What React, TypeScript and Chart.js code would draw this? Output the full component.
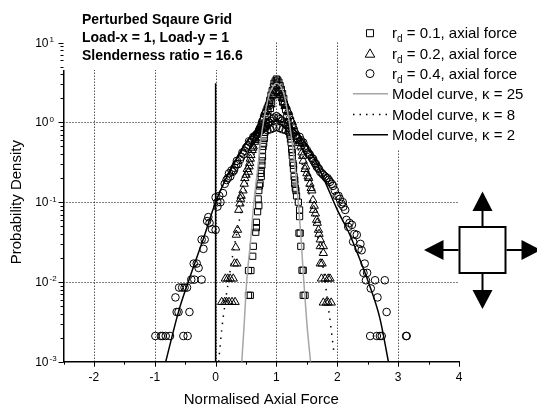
import { useEffect, useRef } from 'react';
import { Chart, registerables } from 'chart.js';

Chart.register(...registerables);

const FONT = '"Liberation Sans", Arial, Helvetica, sans-serif';

// ---- text ----
const titleLines = ['Perturbed Sqaure Grid', 'Load-x = 1, Load-y = 1', 'Slenderness ratio = 16.6'];
const xAxisTitle = 'Normalised Axial Force';
const yAxisTitle = 'Probability Density';
const markerLegendText = [' = 0.1, axial force', ' = 0.2, axial force', ' = 0.4, axial force'];
const lineLegendText = ['Model curve, \u03BA = 25', 'Model curve, \u03BA = 8', 'Model curve, \u03BA = 2'];

// ---- axes ----
const xMin = -2.5;
const xMax = 4;
const xTickValues = [-2.5, -2, -1.5, -1, -0.5, 0, 0.5, 1, 1.5, 2, 2.5, 3, 3.5, 4];
const xLabelValues = [-2, -1, 0, 1, 2, 3, 4];
const xGridValues = [-2, -1, 0, 1, 2, 3];
const yMin = 0.001;
const yMax = 10;
const yMajorValues = [0.001, 0.01, 0.1, 1, 10];
const yMajorExponents = ['-3', '-2', '-1', '0', '1'];
const yGridValues = [0.01, 0.1, 1];
const yMinorMultipliers = [2, 3, 4, 5, 6, 7, 8, 9];

// ---- data ----
const squares_rd01: [number, number][] = [
  [0.54, 0.0068], [0.57, 0.0068], [0.54, 0.0139], [0.58, 0.0139], [0.61, 0.021], [0.62, 0.028],
  [0.66, 0.042], [0.67, 0.048], [0.67, 0.056], [0.69, 0.076], [0.71, 0.09], [0.7, 0.11],
  [0.71, 0.14], [0.73, 0.17], [0.75, 0.21], [0.75, 0.25], [0.76, 0.29], [0.77, 0.37],
  [0.77, 0.45], [0.79, 0.55], [0.8, 0.63], [0.81, 0.75], [0.82, 0.88], [0.83, 1.0],
  [0.85, 1.2], [0.86, 1.4], [0.88, 1.65], [0.89, 1.9], [0.91, 2.2], [0.93, 2.5],
  [0.95, 2.8], [0.96, 3.1], [0.98, 3.3], [1.0, 3.5], [1.02, 3.4], [1.04, 3.2],
  [1.06, 2.9], [1.08, 2.6], [1.1, 2.3], [1.12, 2.0], [1.13, 1.7], [1.15, 1.45],
  [1.17, 1.2], [1.19, 1.0], [1.2, 0.85], [1.22, 0.7], [1.24, 0.56], [1.25, 0.46],
  [1.26, 0.38], [1.27, 0.31], [1.28, 0.26], [1.29, 0.21], [1.3, 0.17], [1.31, 0.15],
  [1.33, 0.12], [1.36, 0.1], [1.38, 0.08], [1.38, 0.066], [1.37, 0.041], [1.39, 0.041],
  [1.4, 0.028], [1.42, 0.014], [1.44, 0.014], [1.44, 0.0068], [1.47, 0.0068],
  [0.9, 1.5], [0.95, 2.2], [1.0, 2.9], [1.05, 2.5], [1.1, 1.8], [0.92, 1.8], [1.08, 2.1],
  [0.72, 0.16], [0.74, 0.23], [0.76, 0.33], [0.78, 0.5], [0.8, 0.7], [1.21, 0.78],
  [1.23, 0.62], [1.26, 0.42], [1.28, 0.29], [1.3, 0.19], [1.32, 0.14],
];

const triangles_rd02: [number, number][] = [
  [0.1, 0.0056], [0.15, 0.0056], [0.18, 0.0056], [0.22, 0.0056], [0.27, 0.0056], [0.32, 0.0056],
  [0.16, 0.011], [0.2, 0.011], [0.24, 0.011], [0.29, 0.011], [0.31, 0.017], [0.35, 0.017],
  [0.33, 0.027], [0.34, 0.039], [0.36, 0.045], [0.38, 0.08], [0.4, 0.096], [0.41, 0.11],
  [0.42, 0.12], [0.45, 0.14], [0.47, 0.17], [0.48, 0.2], [0.5, 0.22], [0.54, 0.24],
  [0.55, 0.28], [0.56, 0.31], [0.58, 0.39], [0.6, 0.45], [0.62, 0.5], [0.64, 0.57],
  [0.66, 0.63], [0.68, 0.7], [0.7, 0.78], [0.72, 0.86], [0.74, 0.95], [0.76, 1.05],
  [0.78, 1.15], [0.8, 1.28], [0.82, 1.4], [0.84, 1.55], [0.86, 1.7], [0.88, 1.85],
  [0.9, 2.0], [0.93, 2.2], [0.96, 2.35], [1.0, 2.45], [1.04, 2.35], [1.07, 2.2],
  [1.1, 2.0], [1.13, 1.8], [1.16, 1.6], [1.19, 1.4], [1.22, 1.2], [1.25, 1.05],
  [1.28, 0.9], [1.31, 0.78], [1.34, 0.67], [1.37, 0.58], [1.4, 0.5], [1.42, 0.42],
  [1.44, 0.33], [1.47, 0.26], [1.5, 0.23], [1.52, 0.21], [1.55, 0.17], [1.58, 0.14],
  [1.6, 0.106], [1.61, 0.08], [1.64, 0.072], [1.66, 0.06], [1.69, 0.045], [1.72, 0.034],
  [1.72, 0.028], [1.77, 0.028], [1.77, 0.023], [1.72, 0.017], [1.75, 0.017], [1.74, 0.011],
  [1.8, 0.011], [1.85, 0.011], [1.88, 0.011], [1.77, 0.0055], [1.82, 0.0055], [1.85, 0.0055],
  [1.9, 0.0055],
  [0.52, 0.26], [0.57, 0.35], [0.61, 0.48], [0.65, 0.6], [0.69, 0.74], [0.73, 0.9],
  [0.77, 1.1], [0.81, 1.35], [1.15, 1.65], [1.2, 1.35], [1.26, 1.0], [1.32, 0.75],
  [1.38, 0.55], [1.43, 0.38], [1.48, 0.28], [1.53, 0.2], [1.57, 0.15], [1.62, 0.09],
  [1.67, 0.055], [1.7, 0.04],
];

const circles_rd04: [number, number][] = [
  [-0.99, 0.0021], [-0.9, 0.0021], [-0.87, 0.0021], [-0.82, 0.0021], [-0.75, 0.0021], [-0.53, 0.0021],
  [-0.46, 0.0021], [-0.64, 0.0042], [-0.61, 0.0042], [-0.43, 0.0042], [-0.66, 0.0064],
  [-0.6, 0.0085], [-0.55, 0.0085], [-0.51, 0.0085], [-0.47, 0.0085],
  [-0.4, 0.0107], [-0.35, 0.0107], [-0.23, 0.0107], [-0.36, 0.017], [-0.31, 0.017], [-0.28, 0.015],
  [-0.23, 0.034], [-0.18, 0.034], [-0.2, 0.026], [-0.12, 0.065], [-0.1, 0.055], [-0.06, 0.046],
  [0.0, 0.045], [-0.14, 0.058], [0.0, 0.115], [0.03, 0.1], [0.08, 0.1], [0.03, 0.088],
  [0.12, 0.13], [0.06, 0.12], [0.15, 0.17], [0.18, 0.19], [0.2, 0.2], [0.24, 0.21],
  [0.28, 0.24], [0.31, 0.27], [0.34, 0.3], [0.37, 0.3], [0.4, 0.34], [0.42, 0.37],
  [0.46, 0.4], [0.48, 0.44], [0.5, 0.48], [0.54, 0.52], [0.57, 0.56], [0.6, 0.6],
  [0.63, 0.64], [0.65, 0.68], [0.68, 0.72], [0.7, 0.75], [0.73, 0.78], [0.75, 0.8],
  [0.78, 0.84], [0.8, 0.88], [0.83, 0.9], [0.86, 0.95], [0.88, 1.0], [0.9, 1.05],
  [0.93, 1.1], [0.96, 1.15], [1.0, 1.2], [1.03, 1.15], [1.06, 1.1], [1.09, 1.05],
  [1.12, 1.0], [1.15, 0.95], [1.18, 0.9], [1.21, 0.85], [0.9, 0.82], [0.95, 0.85],
  [1.0, 0.88], [1.05, 0.85], [1.1, 0.82], [1.15, 0.8], [1.2, 0.76], [1.25, 0.78],
  [1.28, 0.72], [1.32, 0.68], [0.85, 0.8], [1.35, 0.63], [1.4, 0.6], [1.44, 0.56],
  [1.47, 0.48], [1.5, 0.45], [1.52, 0.42], [1.55, 0.39], [1.58, 0.36], [1.61, 0.33],
  [1.63, 0.31], [1.66, 0.28], [1.68, 0.27], [1.72, 0.24], [1.77, 0.22], [1.8, 0.21],
  [1.82, 0.2], [1.86, 0.19], [1.88, 0.18], [1.91, 0.17], [1.96, 0.14], [1.99, 0.12],
  [2.04, 0.11], [2.07, 0.095], [2.1, 0.088], [2.13, 0.08], [2.15, 0.06], [2.18, 0.049],
  [2.24, 0.052], [2.32, 0.039], [2.26, 0.032], [2.35, 0.026], [2.4, 0.025], [2.45, 0.017],
  [2.43, 0.013], [2.49, 0.013], [2.47, 0.0105], [2.62, 0.0105], [2.78, 0.0105], [2.55, 0.0083],
  [2.66, 0.0064], [2.81, 0.0042], [2.54, 0.0021], [2.65, 0.0021], [2.7, 0.0021], [2.73, 0.0021],
  [3.13, 0.0021], [3.14, 0.0021],
  [0.22, 0.23], [0.26, 0.25], [0.3, 0.25], [0.35, 0.33], [0.44, 0.42], [0.52, 0.5],
  [0.55, 0.58], [0.62, 0.66], [0.67, 0.7], [0.72, 0.82], [0.77, 0.88], [1.38, 0.66],
  [1.42, 0.55], [1.46, 0.5], [1.54, 0.4], [1.6, 0.35], [1.65, 0.3], [1.7, 0.26],
  [1.75, 0.23], [1.84, 0.2], [1.93, 0.16], [2.02, 0.12], [2.09, 0.1], [2.2, 0.055],
  [2.28, 0.04], [2.38, 0.03],
];

const model_k25: [number, number][] = [
  [0.43, 0.001], [0.47, 0.003], [0.51, 0.01], [0.57, 0.03], [0.63, 0.1], [0.7, 0.3],
  [0.76, 0.75], [0.82, 1.4], [0.88, 2.2], [0.94, 2.8], [1.0, 3.1], [1.06, 2.9],
  [1.12, 2.3], [1.18, 1.4], [1.23, 0.8], [1.29, 0.35], [1.36, 0.1], [1.41, 0.03],
  [1.45, 0.01], [1.5, 0.003], [1.56, 0.001],
];

const model_k8: [number, number][] = [
  [0.05, 0.001], [0.1, 0.0025], [0.15, 0.005], [0.2, 0.009], [0.3, 0.026], [0.4, 0.065],
  [0.5, 0.15], [0.6, 0.32], [0.7, 0.6], [0.8, 1.0], [0.9, 1.4], [1.0, 1.6],
  [1.1, 1.45], [1.2, 1.05], [1.3, 0.65], [1.4, 0.35], [1.5, 0.17], [1.6, 0.075],
  [1.7, 0.03], [1.78, 0.013], [1.85, 0.005], [1.9, 0.0025], [1.95, 0.0012],
];

const model_k2: [number, number][] = [
  [-0.82, 0.001], [-0.6, 0.0045], [-0.45, 0.01], [-0.2, 0.035], [0.0, 0.1], [0.2, 0.22],
  [0.4, 0.42], [0.6, 0.7], [0.8, 0.95], [1.0, 1.05], [1.2, 0.95], [1.4, 0.65],
  [1.6, 0.38], [1.8, 0.18], [2.0, 0.08], [2.2, 0.04], [2.34, 0.022], [2.51, 0.01],
  [2.7, 0.0035], [2.84, 0.001],
];

const zeroLine: [number, number][] = [[0, 0.001], [0, 3.1]];

const toXY = (arr: [number, number][]) => arr.map(([x, y]) => ({ x, y }));

function drawMarker(ctx: CanvasRenderingContext2D, kind: string, x: number, y: number) {
  ctx.beginPath();
  if (kind === 'rect') {
    ctx.rect(x - 3.5, y - 3.5, 7, 7);
  } else if (kind === 'triangle') {
    ctx.moveTo(x, y - 4.5);
    ctx.lineTo(x - 4.8, y + 3.8);
    ctx.lineTo(x + 4.8, y + 3.8);
    ctx.closePath();
  } else {
    ctx.arc(x, y, 4, 0, Math.PI * 2);
  }
  ctx.stroke();
}

function fillTri(ctx: CanvasRenderingContext2D, pts: number[][]) {
  ctx.beginPath();
  ctx.moveTo(pts[0][0], pts[0][1]);
  ctx.lineTo(pts[1][0], pts[1][1]);
  ctx.lineTo(pts[2][0], pts[2][1]);
  ctx.closePath();
  ctx.fill();
}

const decorPlugin = {
  id: 'decor',
  beforeDraw(chart: any) {
    const { ctx, width, height } = chart;
    ctx.save();
    ctx.fillStyle = '#ffffff';
    ctx.fillRect(0, 0, width, height);
    ctx.restore();
  },
  beforeDatasetsDraw(chart: any) {
    const { ctx, chartArea, scales } = chart;
    const { left, right, top, bottom } = chartArea;
    ctx.save();
    ctx.strokeStyle = '#000';
    ctx.lineWidth = 1;
    ctx.setLineDash([1, 2]);
    xGridValues.forEach((v) => {
      const px = Math.round(scales.x.getPixelForValue(v)) + 0.5;
      ctx.beginPath();
      ctx.moveTo(px, bottom);
      ctx.lineTo(px, top);
      ctx.stroke();
    });
    yGridValues.forEach((v) => {
      const py = Math.round(scales.y.getPixelForValue(v)) + 0.5;
      ctx.beginPath();
      ctx.moveTo(left, py);
      ctx.lineTo(right, py);
      ctx.stroke();
    });
    ctx.restore();
  },
  afterDraw(chart: any) {
    const { ctx, chartArea, scales } = chart;
    const { left, bottom } = chartArea;
    ctx.save();
    // white boxes behind title block and legend
    ctx.fillStyle = '#ffffff';
    ctx.fillRect(62.5, 0, 192, 70);
    ctx.fillRect(342, 18, 195, 132);

    // title block
    ctx.fillStyle = '#000';
    ctx.font = `bold 14px ${FONT}`;
    ctx.textAlign = 'left';
    ctx.textBaseline = 'alphabetic';
    titleLines.forEach((t, i) => ctx.fillText(t, 82, 24 + i * 18));

    // legend
    const rowY = [33.2, 53.4, 73.6, 93.8, 114.5, 134.7];
    const kinds = ['rect', 'triangle', 'circle'];
    ctx.strokeStyle = '#000';
    ctx.lineWidth = 1;
    kinds.forEach((k, i) => {
      drawMarker(ctx, k, 370, rowY[i]);
      const base = rowY[i] + 5.2;
      ctx.font = `15px ${FONT}`;
      ctx.fillText('r', 392, base);
      const rw = ctx.measureText('r').width;
      ctx.font = `10px ${FONT}`;
      ctx.fillText('d', 392 + rw, base + 4);
      const dw = ctx.measureText('d').width;
      ctx.font = `15px ${FONT}`;
      ctx.fillText(markerLegendText[i], 392 + rw + dw, base);
    });
    const lineStyles = [
      { color: '#a6a6a6', dash: [] as number[] },
      { color: '#000', dash: [1.5, 5] },
      { color: '#000', dash: [] as number[] },
    ];
    lineStyles.forEach((s, i) => {
      const y = rowY[3 + i];
      ctx.save();
      ctx.strokeStyle = s.color;
      ctx.lineWidth = 1.5;
      ctx.setLineDash(s.dash);
      ctx.beginPath();
      ctx.moveTo(353, y);
      ctx.lineTo(388, y);
      ctx.stroke();
      ctx.restore();
      ctx.font = `15px ${FONT}`;
      ctx.fillText(lineLegendText[i], 392, y + 5.2);
    });

    // tick marks
    ctx.strokeStyle = '#000';
    ctx.lineWidth = 1;
    ctx.setLineDash([]);
    const ax = left;
    for (let d = 0; d < yMajorValues.length; d++) {
      const py = Math.round(scales.y.getPixelForValue(yMajorValues[d])) + 0.5;
      ctx.beginPath();
      ctx.moveTo(ax - 5, py);
      ctx.lineTo(ax, py);
      ctx.stroke();
      if (d < yMajorValues.length - 1) {
        yMinorMultipliers.forEach((m) => {
          const pm = Math.round(scales.y.getPixelForValue(yMajorValues[d] * m)) + 0.5;
          ctx.beginPath();
          ctx.moveTo(ax - 3, pm);
          ctx.lineTo(ax, pm);
          ctx.stroke();
        });
      }
    }
    xTickValues.forEach((v) => {
      const px = Math.round(scales.x.getPixelForValue(v)) + 0.5;
      const len = Number.isInteger(v) ? 5 : 3;
      ctx.beginPath();
      ctx.moveTo(px, bottom);
      ctx.lineTo(px, bottom + len);
      ctx.stroke();
    });

    // y tick labels 10^n
    yMajorValues.forEach((v, i) => {
      const py = scales.y.getPixelForValue(v);
      ctx.font = `12px ${FONT}`;
      ctx.textAlign = 'right';
      ctx.textBaseline = 'middle';
      ctx.fillText('10', 48.5, py + 0.5);
      ctx.font = `8px ${FONT}`;
      ctx.textAlign = 'left';
      ctx.textBaseline = 'alphabetic';
      ctx.fillText(yMajorExponents[i], 49.5, py - 0.5);
    });

    // load diagram
    ctx.fillStyle = '#000';
    ctx.lineWidth = 2;
    ctx.strokeRect(459.5, 227, 46, 46);
    ctx.beginPath();
    ctx.moveTo(443, 250); ctx.lineTo(458.5, 250);
    ctx.moveTo(506.5, 250); ctx.lineTo(522, 250);
    ctx.moveTo(482.5, 211); ctx.lineTo(482.5, 226);
    ctx.moveTo(482.5, 274); ctx.lineTo(482.5, 290);
    ctx.stroke();
    fillTri(ctx, [[424, 250], [443.5, 240], [443.5, 260]]);
    fillTri(ctx, [[541, 250], [521.5, 240], [521.5, 260]]);
    fillTri(ctx, [[482.5, 191.5], [472.5, 211], [492.5, 211]]);
    fillTri(ctx, [[482.5, 309], [472.5, 290], [492.5, 290]]);
    ctx.restore();
  },
};

export default function App() {
  const canvasRef = useRef<HTMLCanvasElement | null>(null);

  useEffect(() => {
    const canvas = canvasRef.current;
    if (!canvas) return;
    const chart = new Chart(canvas, {
      type: 'scatter',
      data: {
        datasets: [
          {
            label: 'zero',
            data: toXY(zeroLine),
            showLine: true,
            borderColor: '#000',
            borderWidth: 1.5,
            pointRadius: 0,
          },
          {
            label: 'Model curve, k = 25',
            data: toXY(model_k25),
            showLine: true,
            borderColor: '#a6a6a6',
            borderWidth: 1.5,
            pointRadius: 0,
            cubicInterpolationMode: 'monotone',
          },
          {
            label: 'Model curve, k = 8',
            data: toXY(model_k8),
            showLine: true,
            borderColor: '#000',
            borderWidth: 1.5,
            borderDash: [1.5, 6],
            pointRadius: 0,
            cubicInterpolationMode: 'monotone',
          },
          {
            label: 'Model curve, k = 2',
            data: toXY(model_k2),
            showLine: true,
            borderColor: '#000',
            borderWidth: 1.5,
            pointRadius: 0,
            cubicInterpolationMode: 'monotone',
          },
          {
            label: 'rd = 0.1',
            data: toXY(squares_rd01),
            pointStyle: 'rect',
            pointRadius: 4.4,
            borderColor: '#000',
            borderWidth: 1,
            backgroundColor: 'rgba(0,0,0,0)',
          },
          {
            label: 'rd = 0.2',
            data: toXY(triangles_rd02),
            pointStyle: 'triangle',
            pointRadius: 4.8,
            borderColor: '#000',
            borderWidth: 1,
            backgroundColor: 'rgba(0,0,0,0)',
          },
          {
            label: 'rd = 0.4',
            data: toXY(circles_rd04),
            pointStyle: 'circle',
            pointRadius: 3.8,
            borderColor: '#000',
            borderWidth: 1,
            backgroundColor: 'rgba(0,0,0,0)',
          },
        ],
      } as any,
      options: {
        responsive: false,
        animation: false,
        devicePixelRatio: 1,
        layout: { padding: { left: 0, right: 78, top: 42.7, bottom: 0 } },
        plugins: { legend: { display: false }, tooltip: { enabled: false }, title: { display: false } },
        events: [],
        scales: {
          x: {
            type: 'linear',
            min: xMin,
            max: xMax,
            afterBuildTicks: (scale: any) => {
              scale.ticks = xTickValues.map((v) => ({ value: v }));
            },
            afterFit: (scale: any) => {
              scale.height = 47.3;
            },
            ticks: {
              autoSkip: false,
              maxRotation: 0,
              minRotation: 0,
              padding: 9,
              color: '#000',
              font: { family: FONT, size: 12 },
              callback: (value: any) => (xLabelValues.includes(Number(value)) ? String(value) : ''),
            },
            grid: { display: false, drawTicks: false },
            border: { display: true, color: '#000', width: 1.5 },
            title: {
              display: true,
              text: xAxisTitle,
              color: '#000',
              font: { family: FONT, size: 15 },
              padding: { top: 0, bottom: 0 },
            },
          },
          y: {
            type: 'logarithmic',
            min: yMin,
            max: yMax,
            afterFit: (scale: any) => {
              scale.width = 63.5;
            },
            ticks: { display: false },
            grid: { display: false, drawTicks: false },
            border: { display: true, color: '#000', width: 1.5 },
            title: {
              display: true,
              text: yAxisTitle,
              color: '#000',
              font: { family: FONT, size: 15 },
              padding: { top: 8, bottom: 0 },
            },
          },
        },
      } as any,
      plugins: [decorPlugin],
    });
    return () => chart.destroy();
  }, []);

  return (
    <div style={{ position: 'fixed', left: 0, top: 0, width: 537, height: 409, background: '#fff' }}>
      <canvas ref={canvasRef} width={537} height={409} style={{ width: 537, height: 409, display: 'block' }} />
    </div>
  );
}
